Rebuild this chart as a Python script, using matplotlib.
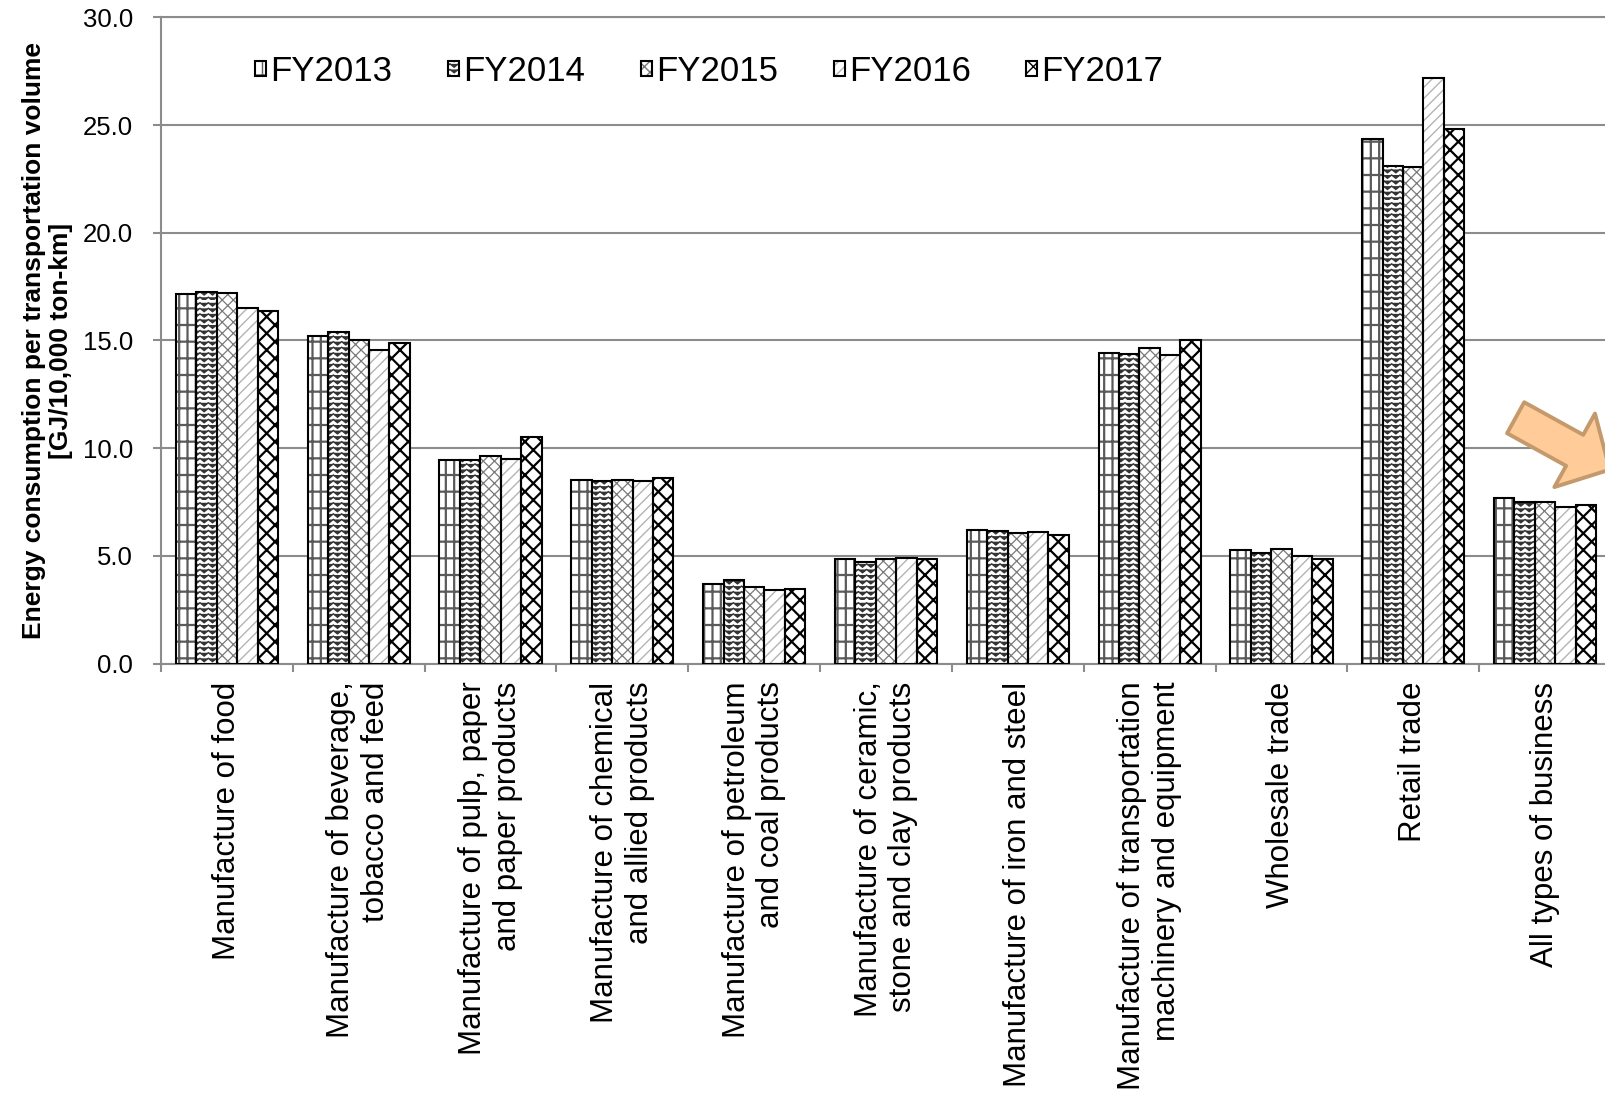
import warnings
import numpy as np
import matplotlib
matplotlib.use('Agg')
import matplotlib.pyplot as plt
import matplotlib.hatch as mhatch
from matplotlib.path import Path

# chart data
categories = [
    'Manufacture of food',
    'Manufacture of beverage,\ntobacco and feed',
    'Manufacture of pulp, paper\nand paper products',
    'Manufacture of chemical\nand allied products',
    'Manufacture of petroleum\nand coal products',
    'Manufacture of ceramic,\nstone and clay products',
    'Manufacture of iron and steel',
    'Manufacture of transportation\nmachinery and equipment',
    'Wholesale trade',
    'Retail trade',
    'All types of business',
]
years = ['FY2013', 'FY2014', 'FY2015', 'FY2016', 'FY2017']
fy2013 = [17.17, 15.22, 9.44, 8.50, 3.68, 4.83, 6.20, 14.41, 5.28, 24.36, 7.68]
fy2014 = [17.27, 15.39, 9.43, 8.49, 3.87, 4.73, 6.16, 14.38, 5.13, 23.09, 7.50]
fy2015 = [17.20, 15.01, 9.62, 8.50, 3.57, 4.86, 6.04, 14.66, 5.31, 23.04, 7.50]
fy2016 = [16.50, 14.55, 9.50, 8.49, 3.43, 4.91, 6.10, 14.32, 5.01, 27.20, 7.27]
fy2017 = [16.36, 14.87, 10.53, 8.61, 3.47, 4.83, 5.98, 15.01, 4.85, 24.82, 7.37]
series = [fy2013, fy2014, fy2015, fy2016, fy2017]


class ZigzagHatch(mhatch.HatchPatternBase):
    """Rows of small chevrons, selected with 'v' in the hatch string."""

    def __init__(self, hatch, density):
        self.num_rows = int(hatch.count('v') * density)
        self.num_cols = int(self.num_rows * 2 // 3)
        self.num_vertices = self.num_rows * (2 * self.num_cols + 1)

    def set_vertices_and_codes(self, vertices, codes):
        n = 2 * self.num_cols + 1
        xs = np.linspace(0.0, 1.0, n)
        dips = (np.arange(n) % 2) * (0.6 / self.num_rows)
        for i in range(self.num_rows):
            y = (i + 0.5) / self.num_rows
            vertices[i * n:(i + 1) * n, 0] = xs
            vertices[i * n:(i + 1) * n, 1] = y - dips
            codes[i * n:(i + 1) * n] = Path.LINETO
            codes[i * n] = Path.MOVETO


mhatch._hatch_types.append(ZigzagHatch)
warnings.filterwarnings('ignore', category=matplotlib.MatplotlibDeprecationWarning)

plt.rcParams['font.family'] = ['Liberation Sans', 'DejaVu Sans']

# hatch, hatch colour, hatch line width for each year
styles = [
    ('-||', '#5a5a5a', 1.6),
    ('vvv', '#333333', 1.0),
    ('xxx', '#7a7a7a', 0.9),
    ('///', '#b4b4b4', 1.0),
    ('xx', '#000000', 1.6),
]

fig = plt.figure(figsize=(16.05, 10.98), dpi=100)
ax = fig.add_axes([161 / 1605, 1 - 663.5 / 1098, 1450 / 1605, (663.5 - 17.4) / 1098])

x = np.arange(len(categories))
width = 0.155
handles = []
for i, (vals, (hatch, hcol, hlw)) in enumerate(zip(series, styles)):
    pos = x + (i - 2) * width
    with plt.rc_context({'hatch.linewidth': hlw}):
        fill = ax.bar(pos, vals, width, color='white', edgecolor=hcol,
                      hatch=hatch, linewidth=0, zorder=2)
        for p in fill:
            if hasattr(p, 'set_hatch_linewidth'):
                p.set_hatch_linewidth(hlw)
    edge = ax.bar(pos, vals, width, color='none', edgecolor='black',
                  linewidth=1.5, zorder=3)
    handles.append((fill, edge))

ax.set_xlim(-0.5, len(categories) - 0.5)
ax.set_ylim(0, 30)
ax.set_yticks(np.arange(0, 31, 5))
ax.set_yticklabels([f'{v:.1f}' for v in np.arange(0, 31, 5)], fontsize=18.5)
ax.yaxis.grid(True, color='#8c8c8c', linewidth=1.5, zorder=0)
ax.set_axisbelow(True)

ax.set_xticks(x)
ax.set_xticklabels(categories, rotation=90, fontsize=22.5, va='top', ha='center')
for t in ax.get_xticklabels():
    t.set_multialignment('right')
ax.set_xticks(np.arange(-0.5, len(categories), 1), minor=True)
ax.tick_params(axis='x', which='major', length=0, pad=13)
ax.tick_params(axis='x', which='minor', length=6, width=1.5, color='#8c8c8c', direction='out')
ax.tick_params(axis='y', length=6, width=1.5, color='#8c8c8c', pad=14)

for side in ['left', 'bottom', 'top']:
    ax.spines[side].set_color('#8c8c8c')
    ax.spines[side].set_linewidth(1.5)
ax.spines['right'].set_visible(False)

ax.set_ylabel('Energy consumption per transportation volume\n[GJ/10,000 ton-km]',
              fontsize=19, fontweight='bold', linespacing=1.12)
ax.yaxis.set_label_coords(-0.061, 0.5)

ax.legend(handles, years, loc='center left', bbox_to_anchor=(0.159, 0.935),
          bbox_transform=fig.transFigure, ncol=5, frameon=False, fontsize=25,
          handlelength=0.32, handleheight=0.32, handletextpad=0.12,
          columnspacing=1.6, borderpad=0, borderaxespad=0)

# highlight arrow pointing at the all-business group
ax.annotate('', xy=(10.49, 9.0), xytext=(-67.7, 37.4), textcoords='offset points',
            arrowprops=dict(arrowstyle='simple,head_length=28.8,head_width=60.5,tail_width=25.5',
                            mutation_scale=1, shrinkA=0, shrinkB=0,
                            fc='#FFCC99', ec='#C49A6C', lw=2.8),
            zorder=5)

fig.savefig('out.png', dpi=100)
